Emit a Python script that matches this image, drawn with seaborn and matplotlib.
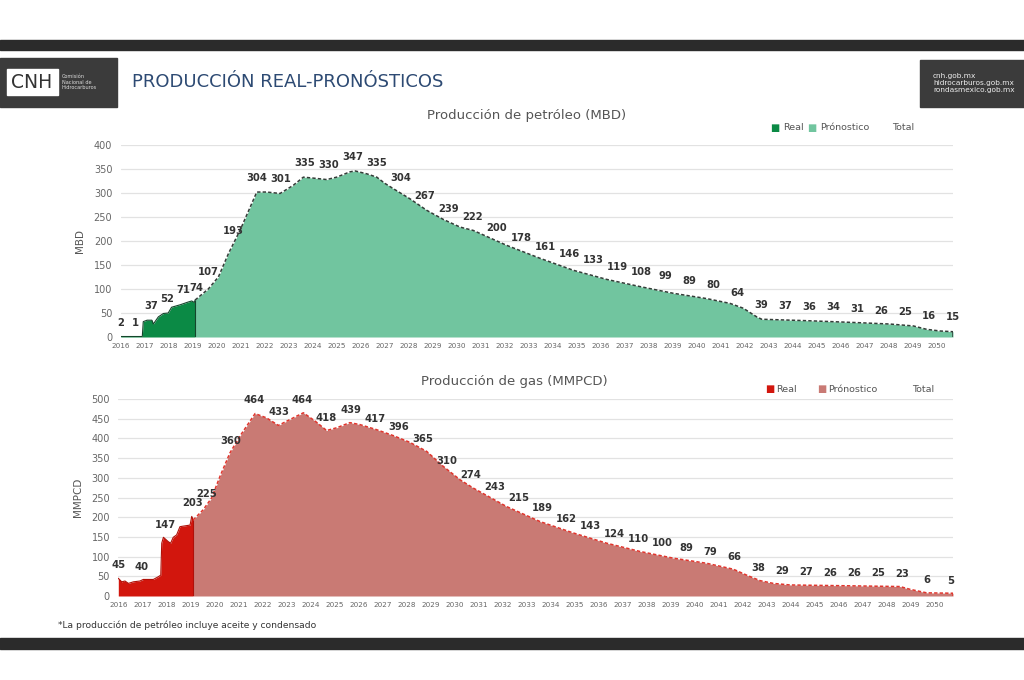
import numpy as np
import pandas as pd
import seaborn as sns
import matplotlib.pyplot as plt
from matplotlib.patches import Rectangle

# ---- oil (MBD) ----
oil_real_year = [2016.0, 2016.9, 2016.94, 2017.1, 2017.3, 2017.36, 2017.57, 2017.78, 2017.98,
                 2018.12, 2018.47, 2018.82, 2018.96, 2019.07, 2019.1]
oil_real_val = [1, 1, 32, 35, 35, 27, 42, 49, 50, 62, 67, 73, 75, 72, 77]

oil_fcst_year = [2019.1, 2019.65, 2020.07, 2020.5, 2020.97, 2021.67, 2022.08, 2022.64, 2023.19,
                 2023.61, 2024.03, 2024.58, 2025.0, 2025.55, 2025.76, 2026.25, 2026.67, 2027.01,
                 2027.36, 2028.05, 2028.75, 2029.44, 2030.14, 2030.69, 2032.08, 2033.47, 2034.86,
                 2036.25, 2037.64, 2039.03, 2040.42, 2041.39, 2041.94, 2042.5, 2042.71, 2044.58,
                 2046.67, 2048.05, 2049.03, 2049.58, 2050.14, 2050.68]
oil_fcst_val = [77, 100, 125, 175, 222, 302, 302, 299, 316, 333, 331, 328, 333, 344, 346, 340,
                333, 320, 309, 288, 264, 245, 229, 222, 191, 164, 139, 120, 105, 91, 80, 70, 60,
                42, 37, 34, 30, 27, 23, 16, 12.5, 11]

oil_lbl_real_year = [2016.0, 2016.6, 2017.25, 2017.92, 2018.6, 2019.17, 2019.65]
oil_lbl_real_val = [2, 1, 37, 52, 71, 74, 107]
oil_lbl_year = list(range(2020, 2051))
oil_lbl_val = [193, 304, 301, 335, 330, 347, 335, 304, 267, 239,
               222, 200, 178, 161, 146, 133, 119, 108, 99, 89,
               80, 64, 39, 37, 36, 34, 31, 26, 25, 16, 15]

# ---- gas (MMPCD) ----
gas_real_year = [2016.0, 2016.14, 2016.28, 2016.42, 2016.63, 2016.9, 2017.04, 2017.46, 2017.67,
                 2017.77, 2017.81, 2017.88, 2018.08, 2018.18, 2018.29, 2018.43, 2018.57, 2018.99,
                 2019.06, 2019.12]
gas_real_val = [45, 36, 38, 32, 36, 38, 42, 42, 49, 53, 134, 149, 138, 134, 149, 155, 176, 180,
                202, 193]

gas_fcst_year = [2019.12, 2019.54, 2019.89, 2020.24, 2020.65, 2021.07, 2021.7, 2022.18, 2022.67,
                 2023.22, 2023.71, 2024.2, 2024.68, 2025.1, 2025.65, 2026.07, 2026.77, 2027.46,
                 2028.15, 2028.85, 2029.54, 2030.24, 2030.79, 2032.18, 2033.57, 2034.96, 2036.35,
                 2037.74, 2039.13, 2040.52, 2041.63, 2042.18, 2042.74, 2043.29, 2043.99, 2048.57,
                 2048.99, 2049.68, 2050.78]
gas_fcst_val = [193, 219, 249, 304, 363, 406, 463, 452, 433, 450, 465, 444, 420, 427, 440, 435,
                422, 407, 390, 367, 329, 295, 274, 227, 189, 160, 134, 113, 96, 83, 68, 53, 39,
                32, 28, 24, 17, 8, 7]

gas_lbl_real_year = [2016.0, 2016.97, 2017.98, 2019.08, 2019.68]
gas_lbl_real_val = [45, 40, 147, 203, 225]
gas_lbl_year = list(range(2020, 2051))
gas_lbl_val = [360, 464, 433, 464, 418, 439, 417, 396, 365, 310,
               274, 243, 215, 189, 162, 143, 124, 110, 100, 89,
               79, 66, 38, 29, 27, 26, 26, 25, 23, 6, 5]

years = list(range(2016, 2051))

sns.set_theme(style="white")
plt.rcParams['font.family'] = ['DejaVu Sans']

W, H = 1024, 680
fig = plt.figure(figsize=(W / 100, H / 100), dpi=100)
fig.patch.set_facecolor('white')


def px_box(x0, y0, x1, y1):
    return [x0 / W, 1 - y1 / H, (x1 - x0) / W, (y1 - y0) / H]


def fig_rect(x0, y0, x1, y1, color):
    fig.patches.append(Rectangle((x0 / W, 1 - y1 / H), (x1 - x0) / W, (y1 - y0) / H,
                                 transform=fig.transFigure, color=color, zorder=0))


# header / footer bands
fig_rect(0, 40, W, 50, '#2b2b2b')
fig_rect(0, 638, W, 649, '#2b2b2b')
fig_rect(0, 58, 117, 107, '#3b3b3b')
fig_rect(7, 69, 58, 95, 'white')
fig.text(32 / W, 1 - 83 / H, 'CNH', ha='center', va='center', fontsize=13.5, color='#333333')
fig.text(62 / W, 1 - 82 / H, 'Comisión\nNacional de\nHidrocarburos', ha='left', va='center',
         fontsize=3.6, color='#dddddd', linespacing=1.1)
fig.text(132 / W, 1 - 82 / H, 'PRODUCCIÓN REAL-PRONÓSTICOS', ha='left', va='center',
         fontsize=13, color='#2d4a73')
fig_rect(920, 60, W, 107, '#3b3b3b')
fig.text(933 / W, 1 - 83 / H, 'cnh.gob.mx\nhidrocarburos.gob.mx\nrondasmexico.gob.mx',
         ha='left', va='center', fontsize=5.3, color='#eeeeee', linespacing=1.15)


def draw_panel(box, xmax, ymax, real_x, real_y, fc_x, fc_y, lr_x, lr_y, lf_y,
               c_real, c_fill, c_line, c_edge, ylabel):
    ax = fig.add_axes(box)
    real = pd.DataFrame({'year': real_x, 'val': real_y})
    fc = pd.DataFrame({'year': fc_x, 'val': fc_y})
    ax.fill_between(fc['year'], 0, fc['val'], color=c_fill, lw=0, zorder=2)
    ax.fill_between(real['year'], 0, real['val'], color=c_real, lw=0, zorder=3)
    sns.lineplot(data=real, x='year', y='val', ax=ax, color=c_edge, lw=0.8, zorder=4,
                 estimator=None, sort=False)
    ax.vlines(real['year'].iloc[-1], 0, real['val'].iloc[-1], color=c_edge, lw=0.8, zorder=4)
    sns.lineplot(data=fc, x='year', y='val', ax=ax, color=c_line, lw=1.1, zorder=5,
                 estimator=None, sort=False, linestyle=(0, (2.2, 1.4)))
    ax.vlines(fc['year'].iloc[-1], 0, fc['val'].iloc[-1], color=c_line, lw=1.1, zorder=5)

    for x, v in zip(lr_x, lr_y):
        ax.annotate(str(v), (x, v), xytext=(0, 9.5), textcoords='offset points', ha='center',
                    va='center', fontsize=7.2, fontweight='bold', color='#333333',
                    annotation_clip=False, zorder=6)
    for yr, v in zip(oil_lbl_year, lf_y):
        ax.annotate(str(v), (yr + 0.68, v), xytext=(0, 9.5), textcoords='offset points',
                    ha='center', va='center', fontsize=7.2, fontweight='bold',
                    color='#333333', annotation_clip=False, zorder=6)

    ax.set_xlim(2016, xmax)
    ax.set_ylim(0, ymax)
    ax.set_xticks(years)
    ax.set_xticklabels([str(y) for y in years], fontsize=5.2, color='#666666')
    ax.set_yticks(np.arange(0, ymax + 1, 50))
    ax.set_yticklabels([str(int(t)) for t in np.arange(0, ymax + 1, 50)], fontsize=7,
                       color='#666666')
    ax.tick_params(axis='x', length=0, pad=4)
    ax.tick_params(axis='y', length=0, pad=6)
    ax.grid(axis='y', color='#e2e2e2', lw=0.9, zorder=0)
    ax.set_axisbelow(True)
    for s in ax.spines.values():
        s.set_visible(False)
    ax.set_xlabel('')
    ax.set_ylabel(ylabel, fontsize=7.5, color='#555555', labelpad=6)
    ax.patch.set_alpha(0)
    return ax


ax1 = draw_panel(px_box(120.7, 145, 953, 337), 2050.68, 400,
                 oil_real_year, oil_real_val, oil_fcst_year, oil_fcst_val,
                 oil_lbl_real_year, oil_lbl_real_val, oil_lbl_val,
                 '#0b8a45', '#71c59f', '#333d38', '#14452b', 'MBD')
ax2 = draw_panel(px_box(118.3, 399, 953, 596), 2050.78, 500,
                 gas_real_year, gas_real_val, gas_fcst_year, gas_fcst_val,
                 gas_lbl_real_year, gas_lbl_real_val, gas_lbl_val,
                 '#d2160d', '#c97a74', '#e0352d', '#b01008', 'MMPCD')

# titles and legends
fig.text(527 / W, 1 - 116 / H, 'Producción de petróleo (MBD)', ha='center', va='center',
         fontsize=9.5, color='#555555')
fig.text(514 / W, 1 - 381 / H, 'Producción de gas (MMPCD)', ha='center', va='center',
         fontsize=9.5, color='#555555')

for (xs, y, c1, c2, xt) in [((775, 812), 128, '#0b8a45', '#71c59f', (783, 820, 892)),
                            ((770, 822), 389, '#d2160d', '#c97a74', (776, 828, 912))]:
    fig.text(xs[0] / W, 1 - y / H, '■', ha='center', va='center', fontsize=7, color=c1)
    fig.text(xs[1] / W, 1 - y / H, '■', ha='center', va='center', fontsize=7, color=c2)
    fig.text(xt[0] / W, 1 - y / H, 'Real', ha='left', va='center', fontsize=6.8, color='#555555')
    fig.text(xt[1] / W, 1 - y / H, 'Prónostico', ha='left', va='center', fontsize=6.8,
             color='#555555')
    fig.text(xt[2] / W, 1 - y / H, 'Total', ha='left', va='center', fontsize=6.8,
             color='#555555')

fig.text(58 / W, 1 - 625 / H, '*La producción de petróleo incluye aceite y condensado',
         ha='left', va='center', fontsize=6.6, color='#333333')

fig.savefig('out.png', dpi=100)
